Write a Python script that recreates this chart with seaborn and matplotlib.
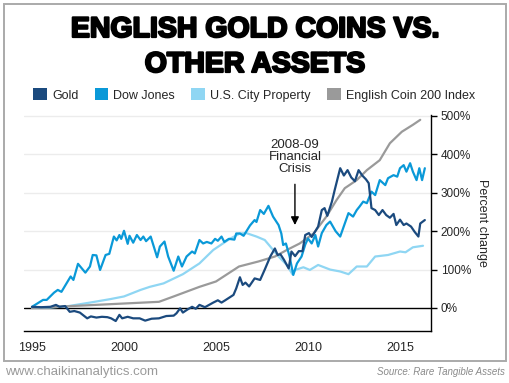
import matplotlib
matplotlib.use("Agg")
import matplotlib.pyplot as plt
import matplotlib.patheffects as pe
from matplotlib.patches import Rectangle, Patch
from matplotlib import font_manager
import seaborn as sns
import pandas as pd

# ---- data (percent change since 1995) ----
gold_years = [1995.0, 1995.5, 1996.0, 1996.3, 1996.5, 1996.8, 1997.05, 1997.3, 1997.6, 1998.0,
              1998.2, 1998.5, 1998.8, 1999.1, 1999.3, 1999.55, 1999.75, 1999.9, 2000.2, 2000.5,
              2000.85, 2001.15, 2001.5, 2001.9, 2002.3, 2002.7, 2002.85, 2003.05, 2003.2, 2003.45,
              2003.7, 2003.9, 2004.1, 2004.4, 2004.85, 2005.1, 2005.3, 2005.5, 2005.95, 2006.1,
              2006.3, 2006.45, 2006.6, 2006.8, 2007.1, 2007.4, 2007.65, 2007.95, 2008.2, 2008.35,
              2008.5, 2008.7, 2008.95, 2009.1, 2009.3, 2009.5, 2009.7, 2009.85, 2010.05, 2010.2,
              2010.4, 2010.55, 2010.75, 2010.9, 2011.05, 2011.3, 2011.45, 2011.75, 2011.95, 2012.15,
              2012.35, 2012.55, 2012.75, 2012.95, 2013.15, 2013.3, 2013.45, 2013.65, 2013.85, 2014.05,
              2014.25, 2014.45, 2014.65, 2014.8, 2015.0, 2015.2, 2015.35, 2015.6, 2015.8, 2016.0,
              2016.1, 2016.35]
gold_vals = [3, 2, 3, 8, 3, 5, -10, -8, -12, -27,
             -22, -25, -23, -24, -27, -34, -18, -27, -23, -27,
             -27, -33, -28, -27, -21, -20, -14, -1, -12, -4,
             3, -2, 8, 2, 14, 20, 14, 20, 34, 51,
             80, 60, 66, 56, 77, 73, 100, 134, 155, 138,
             140, 125, 103, 147, 135, 148, 148, 190, 195, 185,
             200, 212, 255, 260, 240, 277, 307, 364, 345, 359,
             340, 330, 359, 345, 335, 325, 260, 255, 242, 255,
             242, 235, 245, 216, 230, 216, 220, 212, 198, 186,
             220, 229]

dow_years = [1995.0, 1995.6, 1995.8, 1996.2, 1996.4, 1996.6, 1997.1, 1997.25, 1997.5, 1997.9,
             1998.15, 1998.3, 1998.5, 1998.7, 1999.0, 1999.2, 1999.45, 1999.6, 1999.75, 1999.85,
             2000.0, 2000.2, 2000.3, 2000.5, 2000.7, 2000.9, 2001.05, 2001.2, 2001.45, 2001.8,
             2001.95, 2002.2, 2002.4, 2002.7, 2002.95, 2003.15, 2003.4, 2003.7, 2003.85, 2004.1,
             2004.3, 2004.5, 2004.75, 2004.95, 2005.1, 2005.3, 2005.45, 2005.7, 2006.0, 2006.1,
             2006.3, 2006.5, 2006.85, 2007.1, 2007.2, 2007.4, 2007.6, 2007.85, 2008.1, 2008.4,
             2008.55, 2008.65, 2008.8, 2009.0, 2009.2, 2009.4, 2009.65, 2009.85, 2010.0, 2010.2,
             2010.4, 2010.55, 2010.75, 2011.0, 2011.2, 2011.5, 2011.75, 2012.0, 2012.2, 2012.45,
             2012.65, 2012.8, 2013.0, 2013.2, 2013.45, 2013.65, 2013.9, 2014.2, 2014.35, 2014.65,
             2014.85, 2015.0, 2015.2, 2015.35, 2015.55, 2015.7, 2015.9, 2016.05, 2016.2, 2016.35]
dow_vals = [3, 21, 21, 40, 47, 42, 82, 73, 115, 92,
            108, 138, 137, 99, 138, 141, 186, 176, 190, 180,
            201, 167, 188, 170, 190, 177, 186, 174, 186, 132,
            160, 173, 134, 97, 134, 108, 134, 147, 142, 177,
            168, 172, 168, 180, 175, 186, 172, 180, 178, 194,
            194, 188, 215, 229, 224, 255, 245, 266, 238, 216,
            194, 164, 168, 134, 86, 116, 134, 165, 181, 168,
            190, 160, 195, 216, 225, 200, 186, 220, 247, 238,
            255, 264, 277, 273, 303, 294, 333, 320, 338, 346,
            342, 364, 372, 355, 377, 355, 333, 364, 333, 364]

property_years = [1995.0, 1996.0, 1997.0, 1998.15, 1999.25, 2000.0, 2000.9, 2001.4, 2002.15, 2003.2,
                  2004.1, 2004.85, 2005.75, 2006.3, 2006.65, 2007.2, 2007.65, 2007.95, 2008.4, 2008.85,
                  2009.15, 2009.3, 2009.75, 2010.1, 2010.55, 2011.2, 2011.75, 2012.2, 2012.65, 2013.2,
                  2013.65, 2014.35, 2015.0, 2015.3, 2015.7, 2016.25]
property_vals = [0, 1, 5, 14, 23, 30, 47, 55, 64, 88,
                 116, 151, 180, 194, 195, 186, 177, 160, 134, 112,
                 88, 99, 106, 99, 112, 100, 95, 88, 108, 108,
                 134, 138, 147, 145, 158, 162]

coin_years = [1995.0, 2001.9, 2002.7, 2004.1, 2005.0, 2006.25, 2007.3, 2008.2, 2008.85, 2009.55,
              2010.3, 2011.0, 2011.55, 2012.0, 2012.65, 2013.2, 2013.9, 2014.45, 2015.1, 2015.7,
              2016.1]
coin_vals = [0, 16, 30, 55, 69, 108, 121, 134, 151, 168,
             194, 238, 281, 312, 333, 359, 385, 429, 459, 477,
             490]

series_names = ["Gold", "Dow Jones", "U.S. City Property", "English Coin 200 Index"]
series_colors = ["#1b4a7e", "#0a99d8", "#8fd6f3", "#9a9a9a"]
year_ticks = [1995, 2000, 2005, 2010, 2015]
pct_ticks = [0, 100, 200, 300, 400, 500]

frames = []
for name, yrs, vals in [("Gold", gold_years, gold_vals), ("Dow Jones", dow_years, dow_vals),
                        ("U.S. City Property", property_years, property_vals),
                        ("English Coin 200 Index", coin_years, coin_vals)]:
    frames.append(pd.DataFrame({"year": yrs, "pct": vals, "series": name}))
df = pd.concat(frames, ignore_index=True)

sns.set_style("white")
names = {f.name for f in font_manager.fontManager.ttflist}
title_font = "Liberation Sans Narrow" if "Liberation Sans Narrow" in names else "Liberation Sans"
title_size = 24 if title_font == "Liberation Sans Narrow" else 20.5
plt.rcParams["font.family"] = ["Liberation Sans", "DejaVu Sans"]

W, H = 510, 383
fig = plt.figure(figsize=(W / 100, H / 100), dpi=100)
fig.patch.set_facecolor("white")

ax = fig.add_axes([24 / W, 1 - 331 / H, (431 - 24) / W, (331 - 115) / H])
palette = dict(zip(series_names, series_colors))
draw_order = ["U.S. City Property", "English Coin 200 Index", "Dow Jones", "Gold"]
sns.lineplot(data=df, x="year", y="pct", hue="series", hue_order=draw_order,
             palette=palette, estimator=None, sort=False, linewidth=1.6, legend=False, ax=ax)

ax.set_xlim(1994.565, 2016.685)
ax.set_ylim(-60, 502.6)
ax.set_xticks(year_ticks)
ax.set_xticklabels([str(y) for y in year_ticks], fontsize=9)
ax.yaxis.tick_right()
ax.yaxis.set_label_position("right")
ax.set_yticks(pct_ticks)
ax.set_yticklabels([f"{p}%" for p in pct_ticks], fontsize=8.5)
ax.tick_params(axis="x", direction="out", length=5, width=1, color="black", pad=3)
ax.tick_params(axis="y", direction="out", length=4, width=1, color="black", pad=3)
ax.set_xlabel("")
ax.set_ylabel("Percent change", rotation=270, fontsize=9, labelpad=12)
for p in pct_ticks[1:]:
    ax.axhline(p, color="#ececec", lw=1, zorder=0)
ax.axhline(0, color="black", lw=1, zorder=1)
for s in ["left", "top"]:
    ax.spines[s].set_visible(False)
for s in ["right", "bottom"]:
    ax.spines[s].set_color("black")
    ax.spines[s].set_linewidth(1)

ax.annotate("2008-09\nFinancial\nCrisis", xy=(2009.29, 216), xytext=(2009.29, 392),
            ha="center", va="center", fontsize=9.5, linespacing=1.0,
            arrowprops=dict(arrowstyle="-|>,head_length=0.5,head_width=0.25", color="black", lw=1,
                            shrinkA=4, shrinkB=0))

# title
for txt, base in [("ENGLISH GOLD COINS VS.", 37), ("OTHER ASSETS", 72)]:
    fig.text(0.5, 1 - base / H, txt, ha="center", va="baseline", fontsize=title_size,
             fontweight="bold", family=title_font, color="black",
             path_effects=[pe.withStroke(linewidth=1.6, foreground="black")])

handles = [Patch(facecolor=c, edgecolor="none") for c in series_colors]
fig.legend(handles, series_names, loc="center", bbox_to_anchor=(254 / W, 1 - 95 / H),
           ncol=4, frameon=False, fontsize=9, handlelength=1.1, handleheight=1.1,
           handletextpad=0.4, columnspacing=1.3, borderpad=0)

fig.patches.append(Rectangle((4 / W, 1 - 361 / H), 502 / W, 357 / H, transform=fig.transFigure,
                             fill=False, edgecolor="#aaaaaa", lw=1.4))
fig.text(5 / W, 1 - 372 / H, "www.chaikinanalytics.com", ha="left", va="center",
         fontsize=9.5, color="#9a9a9a")
fig.text(505 / W, 1 - 372 / H, "Source: Rare Tangible Assets", ha="right", va="center",
         fontsize=7, color="#8a8a8a", style="italic")

fig.savefig("out.png", dpi=100)
